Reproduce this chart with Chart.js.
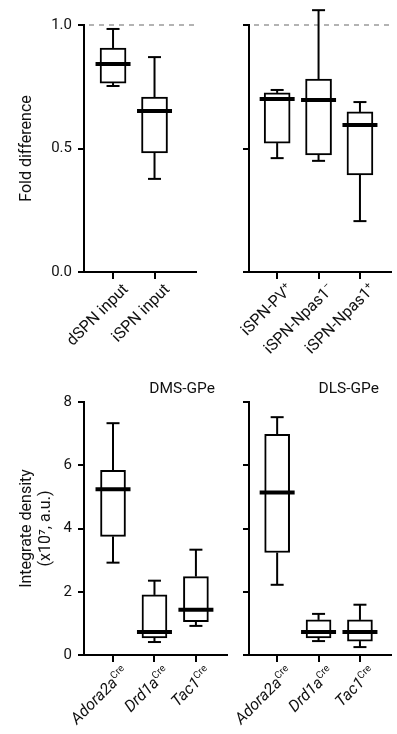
<!DOCTYPE html>
<html>
<head>
<meta charset="utf-8">
<script src="https://cdn.jsdelivr.net/npm/chart.js@4.4.1/dist/chart.umd.min.js"></script>
<style>
  body { margin: 0; background: #fff; }
  #fig { position: relative; width: 397px; height: 734px; }
  #fig canvas { position: absolute; left: 0; top: 0; }
</style>
</head>
<body>
<div id="fig">
  <canvas id="cvTL" width="397" height="734"></canvas>
  <canvas id="cvTR" width="397" height="734"></canvas>
  <canvas id="cvBL" width="397" height="734"></canvas>
  <canvas id="cvBR" width="397" height="734"></canvas>
</div>
<script>
// fold difference, striatal input
const inputLabels = ["dSPN input", "iSPN input"];
const inputMin = [0.753, 0.377];
const inputQ1 = [0.765, 0.482];
const inputMedian = [0.842, 0.652];
const inputQ3 = [0.907, 0.708];
const inputMax = [0.984, 0.870];

// fold difference, iSPN subgroups
const subLabels = ["iSPN-PV", "iSPN-Npas1", "iSPN-Npas1"];
const subSup = ["+", "\u2212", "+"];
const subMin = [0.461, 0.450, 0.206];
const subQ1 = [0.522, 0.474, 0.393];
const subMedian = [0.700, 0.696, 0.595];
const subQ3 = [0.725, 0.781, 0.648];
const subMax = [0.737, 1.060, 0.688];

// integrated density
const creLabels = ["Adora2a", "Drd1a", "Tac1"];
const creSup = ["Cre", "Cre", "Cre"];

const dmsMin = [2.92, 0.41, 0.92];
const dmsQ1 = [3.75, 0.54, 1.05];
const dmsMedian = [5.24, 0.73, 1.43];
const dmsQ3 = [5.84, 1.90, 2.48];
const dmsMax = [7.33, 2.35, 3.33];

const dlsMin = [2.22, 0.44, 0.25];
const dlsQ1 = [3.24, 0.54, 0.44];
const dlsMedian = [5.14, 0.73, 0.73];
const dlsQ3 = [6.98, 1.11, 1.11];
const dlsMax = [7.52, 1.30, 1.59];

const W = 397, H = 734;
const INK = "#111";
const FONT = "Roboto";

Chart.defaults.font.family = FONT;
Chart.defaults.color = INK;

function line(ctx, x1, y1, x2, y2) {
  ctx.beginPath();
  ctx.moveTo(x1, y1);
  ctx.lineTo(x2, y2);
  ctx.stroke();
}

function boxPlugin(p) {
  return {
    id: "boxes",
    beforeDatasetsDraw(chart) {
      if (p.refLine === undefined) return;
      const { ctx, chartArea: a, scales: { y } } = chart;
      const yy = y.getPixelForValue(p.refLine);
      ctx.save();
      ctx.strokeStyle = "#b3b3b3";
      ctx.lineWidth = 2;
      ctx.setLineDash([5, 5]);
      line(ctx, a.left + 5, yy, a.right + 2, yy);
      ctx.restore();
    },
    afterDatasetsDraw(chart) {
      const { ctx, scales: { x, y } } = chart;
      ctx.save();
      ctx.strokeStyle = "#000";
      p.labels.forEach((_, i) => {
        const cx = x.getPixelForValue(i + 1);
        const yMin = y.getPixelForValue(p.min[i]);
        const yMax = y.getPixelForValue(p.max[i]);
        ctx.lineWidth = 2;
        line(ctx, cx, y.getPixelForValue(p.q3[i]), cx, yMax);
        line(ctx, cx, y.getPixelForValue(p.q1[i]), cx, yMin);
        line(ctx, cx - 6.5, yMax, cx + 6.5, yMax);
        line(ctx, cx - 6.5, yMin, cx + 6.5, yMin);
        ctx.lineWidth = 4;
        const ym = y.getPixelForValue(p.med[i]);
        line(ctx, cx - 17.5, ym, cx + 17.5, ym);
      });
      ctx.restore();
    },
    afterDraw(chart) {
      const { ctx, chartArea: a, scales: { x } } = chart;
      ctx.save();
      ctx.fillStyle = INK;
      ctx.textBaseline = "alphabetic";
      ctx.textAlign = "left";
      const mainFont = (p.italic ? "italic " : "") + "16px " + FONT;
      const supFont = "10px " + FONT;
      p.labels.forEach((lab, i) => {
        const cx = x.getPixelForValue(i + 1);
        const sup = p.sup ? p.sup[i] : "";
        ctx.save();
        ctx.translate(cx + 16, a.bottom + 18);
        ctx.rotate(-Math.PI / 4);
        ctx.font = supFont;
        const sw = sup ? ctx.measureText(sup).width : 0;
        ctx.font = mainFont;
        const mw = ctx.measureText(lab).width;
        ctx.fillText(lab, -(mw + sw), 0);
        if (sup) {
          ctx.font = supFont;
          ctx.fillText(sup, -sw, -6);
        }
        ctx.restore();
      });
      if (p.title) {
        ctx.font = "15.5px " + FONT;
        ctx.textAlign = "right";
        ctx.textBaseline = "middle";
        ctx.fillText(p.title, a.right - 12, a.top - 13);
      }
      ctx.restore();
    }
  };
}

function panel(p) {
  const cats = p.labels.map((_, i) => i + 1);
  const axisGrid = { drawOnChartArea: false, lineWidth: 2, color: "#000", offset: false };
  return new Chart(document.getElementById(p.id), {
    type: "bar",
    data: {
      datasets: [{
        data: cats.map((c, i) => ({ x: c, y: [p.q1[i], p.q3[i]] })),
        backgroundColor: "#fff",
        borderColor: "#000",
        borderWidth: 2,
        borderSkipped: false,
        barThickness: p.boxW
      }]
    },
    options: {
      responsive: false,
      animation: false,
      events: [],
      layout: {
        padding: {
          left: p.area.left - p.yW,
          right: W - p.area.right,
          top: p.area.top,
          bottom: H - p.area.bottom - 10
        }
      },
      plugins: { legend: { display: false }, tooltip: { enabled: false } },
      scales: {
        x: {
          type: "linear",
          min: p.xMin,
          max: p.xMax,
          offset: false,
          afterBuildTicks: s => { s.ticks = cats.map(v => ({ value: v })); },
          afterFit: s => { s.height = 10; },
          ticks: { display: false },
          grid: Object.assign({ tickLength: 7 }, axisGrid),
          border: { color: "#000", width: 2 }
        },
        y: {
          min: 0,
          max: p.yMax,
          afterFit: s => { s.width = p.yW; },
          ticks: {
            display: p.showTicks,
            stepSize: p.step,
            padding: 6,
            color: INK,
            font: { size: 15 },
            callback: v => p.fmt(v)
          },
          grid: Object.assign({ tickLength: 6 }, axisGrid),
          border: { color: "#000", width: 2 },
          title: {
            display: !!p.yTitle,
            text: p.yTitle,
            color: INK,
            font: { size: 16 },
            padding: { top: 7, bottom: 0 }
          }
        }
      }
    },
    plugins: [boxPlugin(p)]
  });
}

function draw() {
  const oneDec = v => v.toFixed(1);
  const whole = v => String(v);

  panel({
    id: "cvTL", labels: inputLabels, sup: null, italic: false,
    min: inputMin, q1: inputQ1, med: inputMedian, q3: inputQ3, max: inputMax,
    area: { left: 84, right: 196, top: 25, bottom: 272 }, yW: 74,
    xMin: 0.3, xMax: 3.0, yMax: 1, step: 0.5, fmt: oneDec, showTicks: true,
    yTitle: "Fold difference", refLine: 1, boxW: 26
  });
  panel({
    id: "cvTR", labels: subLabels, sup: subSup, italic: false,
    min: subMin, q1: subQ1, med: subMedian, q3: subQ3, max: subMax,
    area: { left: 249, right: 391, top: 25, bottom: 272 }, yW: 20,
    xMin: 0.32, xMax: 3.75, yMax: 1, step: 0.5, fmt: oneDec, showTicks: false,
    yTitle: "", refLine: 1, boxW: 26
  });
  panel({
    id: "cvBL", labels: creLabels, sup: creSup, italic: true,
    min: dmsMin, q1: dmsQ1, med: dmsMedian, q3: dmsQ3, max: dmsMax,
    area: { left: 84, right: 227, top: 402, bottom: 655 }, yW: 74,
    xMin: 0.3, xMax: 3.75, yMax: 8, step: 2, fmt: whole, showTicks: true,
    yTitle: ["Integrate density", "(x10\u2077, a.u.)"], boxW: 25, title: "DMS-GPe"
  });
  panel({
    id: "cvBR", labels: creLabels, sup: creSup, italic: true,
    min: dlsMin, q1: dlsQ1, med: dlsMedian, q3: dlsQ3, max: dlsMax,
    area: { left: 249, right: 391, top: 402, bottom: 655 }, yW: 20,
    xMin: 0.32, xMax: 3.75, yMax: 8, step: 2, fmt: whole, showTicks: false,
    yTitle: "", boxW: 25, title: "DLS-GPe"
  });
}

Promise.all([
  document.fonts.load("16px Roboto"),
  document.fonts.load("italic 16px Roboto")
]).then(draw, draw);
</script>
</body>
</html>
